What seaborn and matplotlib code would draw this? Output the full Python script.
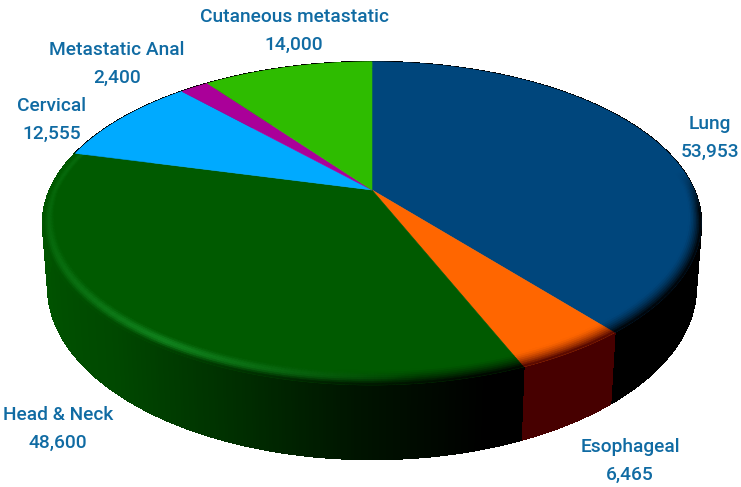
import numpy as np
import matplotlib
matplotlib.use("Agg")
import matplotlib.pyplot as plt
from matplotlib.collections import PolyCollection
from matplotlib.colors import to_rgb
import seaborn as sns

# ---- data ----
categories = ["Lung", "Esophageal", "Head & Neck", "Cervical", "Metastatic Anal", "Cutaneous metastatic"]
values = [53953, 6465, 48600, 12555, 2400, 14000]
top_colors = ["#00467c", "#ff6600", "#005a00", "#00aaff", "#aa0099", "#2ebc00"]
# side-wall colour stops (from left to right across the pie) for each slice
wall_stops = [["#000000", "#000000"], ["#470000", "#470000"],
              ["#005400", "#004800", "#003000", "#001400", "#000000", "#000000"],
              ["#000000", "#000000"], ["#000000", "#000000"], ["#000000", "#000000"]]
label_xy = [(710, 138), (630, 461), (58, 429), (52, 120), (117, 64), (294, 31)]
text_color = "#106ba3"

# ---- projection style of the tilted disc ----
CX, CY, AX, BY, K, DEPTH, BOTTOM_R = 372.0, 190.0, 322.0, 154.6, 0.207, 62.0, 0.985
HIGHLIGHT = np.array([0.08, 0.55, 0.14])


def project(theta, r=1.0, z=0.0):
    """theta is clockwise from the top (radians); perspective projection to the canvas."""
    x, y = r * np.sin(theta), r * np.cos(theta)
    w = 1 + K * y
    return CX + AX * x / w, CY - BY * y / w + z * DEPTH / w


sns.set_theme(style="white")
plt.rcParams["font.family"] = ["Roboto", "DejaVu Sans"]
fig, ax = plt.subplots(figsize=(7.41, 4.87), dpi=100)
fig.subplots_adjust(0, 0, 1, 1)
ax.set_xlim(0, 741)
ax.set_ylim(487, 0)

fractions = np.array(values, dtype=float) / np.sum(values)
edges = np.concatenate([[0], np.cumsum(fractions)]) * 2 * np.pi
palettes = [np.array(sns.blend_palette(s, len(s))) for s in wall_stops]


def wall_color(i, theta):
    stops = palettes[i]
    pos = np.clip((np.sin(theta) + 1) / 2, 0, 1)
    grid = np.linspace(0, 0.8, len(stops))
    return np.array([np.interp(pos, grid, stops[:, c]) for c in range(3)])


def steps(i):
    return np.linspace(edges[i], edges[i + 1], max(int(fractions[i] * 720), 3) + 1)


for i in range(len(values)):
    t = steps(i)
    quads, cols = [], []
    for a, b in zip(t[:-1], t[1:]):
        xa, ya = project(a)
        xb, yb = project(b)
        xc, yc = project(b, BOTTOM_R, 1)
        xd, yd = project(a, BOTTOM_R, 1)
        quads.append([(xa, ya), (xb, yb), (xc, yc), (xd, yd)])
        cols.append(wall_color(i, (a + b) / 2))
    # one solid backing polygon hides seams between the gradient strips
    xt, yt = project(t)
    xl, yl = project(t, BOTTOM_R, 1)
    ax.fill(np.r_[xt, xl[::-1]], np.r_[yt, yl[::-1]], color=np.mean(cols, axis=0), lw=0, zorder=1.5)
    ax.add_collection(PolyCollection(quads, facecolors=cols, edgecolors=cols, linewidths=0.9,
                                     antialiased=False, zorder=2))
    # smooth lower outline of this slice
    ax.plot(xl, yl, color=np.mean(cols, axis=0), lw=0.5, zorder=1.6)

for i in range(len(values)):
    t = steps(i)
    xs, ys = project(t)
    ax.fill(np.r_[CX, xs], np.r_[CY, ys], color=top_colors[i], lw=0.4, zorder=3)
    # bevelled rim
    base = np.array(to_rgb(top_colors[i]))
    quads, cols = [], []
    layers = np.linspace(0, 1, 9)
    for a, b in zip(t[:-1], t[1:]):
        m = (a + b) / 2
        X, Y = np.sin(m), np.cos(m)
        strength = np.clip((0.12 - Y) / 0.25, 0, 1)
        glow = np.interp(X, [-1, -0.55, -0.12, 0.12], [0.3, 0.85, 0.3, 0]) if i == 2 else 0.0
        target = wall_color(i, m)
        inner = 1 - 0.03 - 0.03 * abs(Y)
        for s0, s1 in zip(layers[:-1], layers[1:]):
            s = (s0 + s1) / 2
            c = base + (target - base) * strength * s ** 1.5
            bump = glow * np.sin(np.pi * s) ** 2
            c = c * (1 - bump) + HIGHLIGHT * bump
            r0, r1 = inner + (1 - inner) * s0, inner + (1 - inner) * s1
            xa, ya = project(a, r0)
            xb, yb = project(b, r0)
            xc, yc = project(b, r1)
            xd, yd = project(a, r1)
            quads.append([(xa, ya), (xb, yb), (xc, yc), (xd, yd)])
            cols.append(np.clip(c, 0, 1))
    ax.add_collection(PolyCollection(quads, facecolors=cols, edgecolors=cols, linewidths=0.4, zorder=4))

# labels
for name, val, (lx, ly) in zip(categories, values, label_xy):
    ax.text(lx, ly - 14, name, ha="center", va="center", fontsize=13.8, color=text_color,
            fontweight="medium", zorder=6)
    ax.text(lx, ly + 14, f"{val:,}", ha="center", va="center", fontsize=13.8, color=text_color,
            fontweight="medium", zorder=6)

sns.despine(ax=ax, left=True, bottom=True)
ax.set_xticks([])
ax.set_yticks([])
ax.set_frame_on(False)
fig.savefig("out.png", dpi=100, facecolor="white")
